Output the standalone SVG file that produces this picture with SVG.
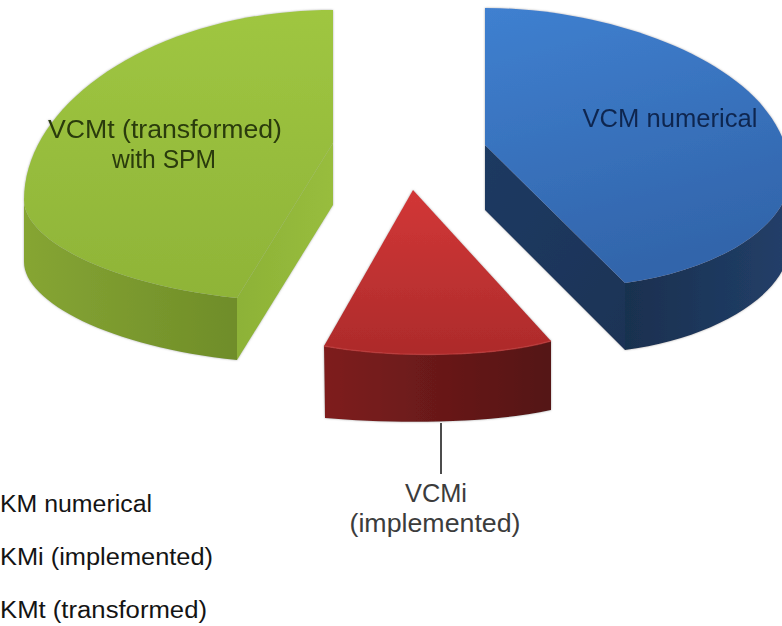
<svg xmlns="http://www.w3.org/2000/svg" width="782" height="626" viewBox="0 0 782 626">
  <defs>
    <linearGradient id="gTop" x1="0" y1="0" x2="0" y2="1">
      <stop offset="0" stop-color="#9fc641"/>
      <stop offset="1" stop-color="#8fb438"/>
    </linearGradient>
    <linearGradient id="gSide" x1="0" y1="0" x2="1" y2="0">
      <stop offset="0" stop-color="#86a533"/>
      <stop offset="1" stop-color="#6f8d29"/>
    </linearGradient>
    <linearGradient id="gRad" x1="0" y1="0" x2="1" y2="0">
      <stop offset="0" stop-color="#8db237"/>
      <stop offset="1" stop-color="#98bd3d"/>
    </linearGradient>
    <linearGradient id="bTop" x1="0" y1="0" x2="0.3" y2="1">
      <stop offset="0" stop-color="#3f80d0"/>
      <stop offset="1" stop-color="#3265ab"/>
    </linearGradient>
    <linearGradient id="bRad" x1="0" y1="0" x2="1" y2="1">
      <stop offset="0" stop-color="#1d3a62"/>
      <stop offset="1" stop-color="#1a3356"/>
    </linearGradient>
    <linearGradient id="bSide" x1="0" y1="0" x2="1" y2="0">
      <stop offset="0" stop-color="#19304f"/>
      <stop offset="1" stop-color="#223f69"/>
    </linearGradient>
    <linearGradient id="rTop" x1="0" y1="0" x2="0" y2="1">
      <stop offset="0" stop-color="#d23737"/>
      <stop offset="1" stop-color="#ad2b2b"/>
    </linearGradient>
    <linearGradient id="rSide" x1="0" y1="0" x2="1" y2="0">
      <stop offset="0" stop-color="#7e1e1e"/>
      <stop offset="1" stop-color="#541414"/>
    </linearGradient>
    <filter id="shadow" x="-5%" y="-5%" width="110%" height="110%">
      <feDropShadow dx="0" dy="0" stdDeviation="1.2" flood-color="#777" flood-opacity="0.6"/>
    </filter>
  </defs>
  <style>
    .lbl { font-family: "Liberation Sans", Arial, sans-serif; font-size: 26px; }
    .leg { font-family: "Liberation Sans", Arial, sans-serif; font-size: 23px; fill: #141414; }
    .lead { stroke: #111; stroke-width: 1.5; fill: none; }
  </style>
  <rect width="782" height="626" fill="#ffffff"/>

  <g id="slice-green" filter="url(#shadow)">
    <path d="M24,200 C24,240 110,285 237,298 L237,360 C110,347 24,302 24,262 Z" fill="url(#gSide)"/>
    <path d="M237,298 L333,143 L333,205 L237,360 Z" fill="url(#gRad)"/>
    <path d="M333,10 C160,10 24,100 24,200 C24,240 110,285 237,298 L333,143 Z" fill="url(#gTop)"/>
    <text class="lbl" x="165" y="138" text-anchor="middle" fill="#2a3b0c" textLength="234" lengthAdjust="spacingAndGlyphs">VCMt (transformed)</text>
    <text class="lbl" x="164" y="168" text-anchor="middle" fill="#2a3b0c" textLength="104" lengthAdjust="spacingAndGlyphs">with SPM</text>
  </g>

  <g id="slice-blue" filter="url(#shadow)">
    <path d="M485,145 L625,283 L625,350 L485,210 Z" fill="url(#bRad)"/>
    <path d="M790,175 C790,225 720,270 625,283 L625,350 C720,337 790,292 790,242 Z" fill="url(#bSide)"/>
    <path d="M485,8 C620,8 790,70 790,175 C790,225 720,270 625,283 L485,145 Z" fill="url(#bTop)"/>
    <text class="lbl" x="670" y="127" text-anchor="middle" fill="#10264f" textLength="175" lengthAdjust="spacingAndGlyphs">VCM numerical</text>
  </g>

  <g id="slice-red" filter="url(#shadow)">
    <path d="M324,346 C390,358 490,358 551,341 L551,410 C490,424 390,424 325,418 Z" fill="url(#rSide)"/>
    <path d="M413,190 L324,346 C390,358 490,358 551,341 Z" fill="url(#rTop)"/>
    <path d="M324,346 C390,358 490,358 551,341" fill="none" stroke="#c23a3a" stroke-width="1.5" opacity="0.7"/>
  </g>

  <g id="connectors">
    <line class="lead" x1="441" y1="423" x2="441" y2="474"/>
  </g>

  <g id="label-vcmi">
    <text class="lbl" x="436" y="502" text-anchor="middle" fill="#3c3c3c" textLength="62" lengthAdjust="spacingAndGlyphs">VCMi</text>
    <text class="lbl" x="435" y="532" text-anchor="middle" fill="#3c3c3c" textLength="171" lengthAdjust="spacingAndGlyphs">(implemented)</text>
  </g>

  <g id="legend">
    <text class="leg" x="0" y="512" textLength="152" lengthAdjust="spacingAndGlyphs">KM numerical</text>
    <text class="leg" x="0" y="565" textLength="213" lengthAdjust="spacingAndGlyphs">KMi (implemented)</text>
    <text class="leg" x="0" y="618" textLength="207" lengthAdjust="spacingAndGlyphs">KMt (transformed)</text>
  </g>
</svg>
